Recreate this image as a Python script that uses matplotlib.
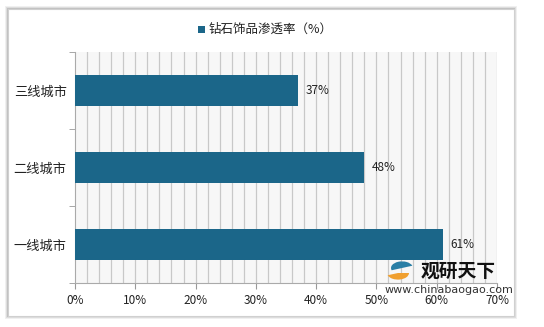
import matplotlib
matplotlib.use("Agg")
import matplotlib.pyplot as plt
from matplotlib.patches import Rectangle, Wedge
import numpy as np

plt.rcParams['font.family'] = ['Noto Sans CJK SC', 'DejaVu Sans']

categories = ["一线城市", "二线城市", "三线城市"]
values = [61, 48, 37]
xticks = [0, 10, 20, 30, 40, 50, 60, 70]
xtick_labels = ["0%", "10%", "20%", "30%", "40%", "50%", "60%", "70%"]
series_name = "钻石饰品渗透率（%）"

W, H = 544, 327
fig = plt.figure(figsize=(W/100, H/100), dpi=100)
fig.patch.set_facecolor("white")

# frame with shadow
for i, a in enumerate([0.06, 0.08, 0.12]):
    d = 3 - i
    fig.patches.append(Rectangle(((8 - d)/W, (H - 316 - d)/H), (506 + 2*d)/W, (307 + 2*d)/H,
                                 transform=fig.transFigure, facecolor=(0, 0, 0, a), edgecolor="none", zorder=0))
fig.patches.append(Rectangle((8/W, (H - 316)/H), 506/W, 307/H, transform=fig.transFigure,
                             facecolor="white", edgecolor="#d0d0d0", lw=0.8, zorder=1))

ax = fig.add_axes([75/W, (H - 283)/H, (497 - 75)/W, (283 - 52)/H])
ax.set_zorder(2)
ax.set_facecolor("#f7f7f7")
bar_color = "#1b6689"
y = np.arange(len(categories))
ax.barh(y, values, height=0.4, color=bar_color, zorder=3)
ax.set_xlim(0, 70)
ax.set_ylim(-0.5, len(categories) - 0.5)

# vertical grid every 2%
for g in np.arange(2, 70.1, 2):
    ax.axvline(g, color="#c8c8c8", lw=0.9, zorder=1)

ax.set_xticks(xticks)
ax.set_xticklabels(xtick_labels, fontsize=8.5, color="#222222")
ax.set_yticks(y)
ax.set_yticklabels(categories, fontsize=9.5, color="#222222")
ax.tick_params(axis="y", length=0, pad=6)
ax.set_yticks(np.arange(-0.5, len(categories), 1), minor=True)
ax.tick_params(axis="y", which="minor", length=4, color="#999999")
ax.tick_params(axis="x", length=4, color="#999999", pad=4)
for s in ["top", "right"]:
    ax.spines[s].set_visible(False)
ax.spines["left"].set_color("#aaaaaa")
ax.spines["bottom"].set_color("#aaaaaa")

for yi, v in zip(y, values):
    ax.text(v + 1.3, yi, f"{v}%", va="center", ha="left", fontsize=8.5, color="#222222", zorder=4)

# legend
fig.patches.append(Rectangle((198/W, (H - 33)/H), 7/W, 7/H, transform=fig.transFigure,
                             facecolor=bar_color, edgecolor="none", zorder=3))
fig.text(209/W, (H - 29)/H, series_name, fontsize=9, va="center", ha="left", color="#222222", zorder=3)

# watermark
fig.text(421/W, (H - 271)/H, "观研天下", fontsize=13.5, fontweight="bold", va="center", ha="left",
         color="#111111", zorder=5)
fig.text(385/W, (H - 290)/H, "www.chinabaogao.com", fontsize=8, va="center", ha="left",
         color="#333333", family=["DejaVu Sans"], zorder=5)
fig.patches.append(Wedge((398/W, (H - 273)/H), 11/W, 200, 360,
                   transform=fig.transFigure, facecolor="#f0a030", edgecolor="none", zorder=5))
fig.patches.append(Wedge((402/W, (H - 268)/H), 11/W, 20, 200,
                   transform=fig.transFigure, facecolor="#2a7fa6", edgecolor="none", zorder=5))

fig.savefig("out.png", dpi=100, facecolor="white")
